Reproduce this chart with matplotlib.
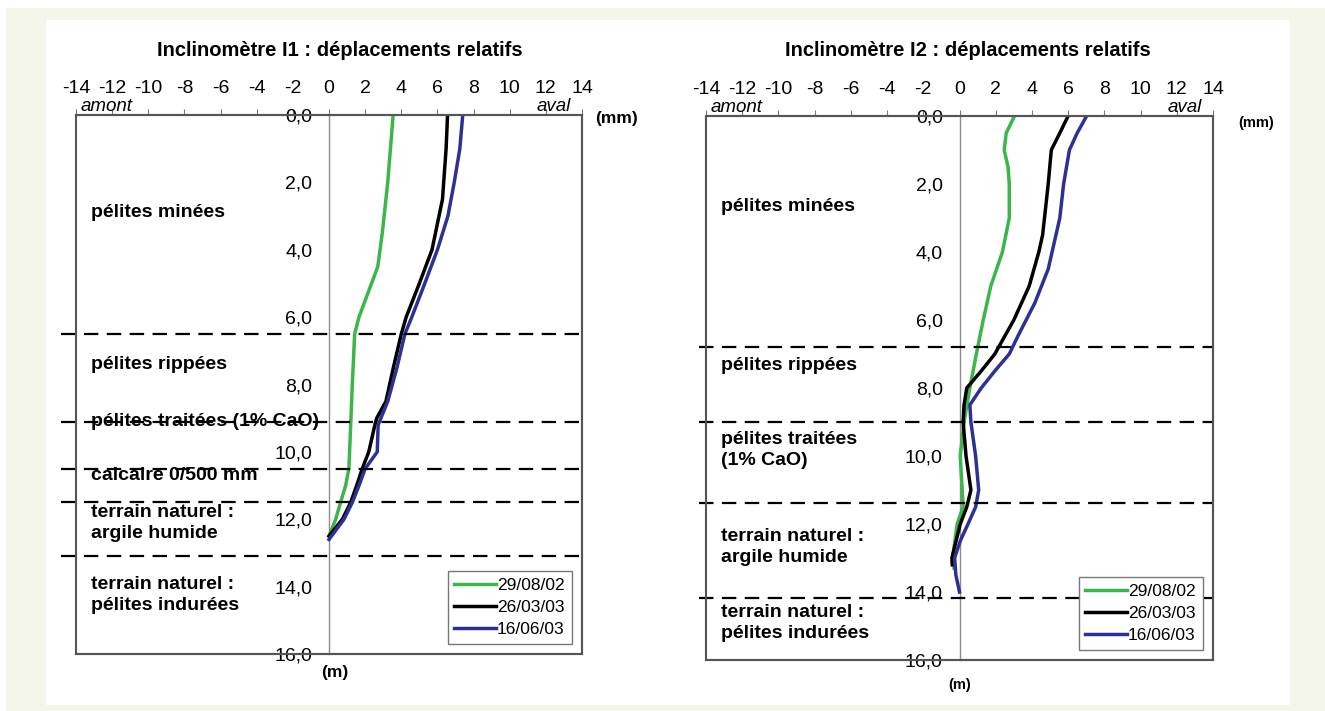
import matplotlib
matplotlib.use("Agg")
import matplotlib.pyplot as plt
from matplotlib.patches import Rectangle
from matplotlib.ticker import FuncFormatter

plt.rcParams['font.family'] = ['Liberation Sans', 'DejaVu Sans']

W, H = 1325, 711

dates = ['29/08/02', '26/03/03', '16/06/03']
colors = ['#3cb54a', '#000000', '#2e3192']

# inclinometre I1 : depth (m) / displacement (mm)
i1_depth = [
    [0, 2, 3.5, 4.5, 6, 6.5, 8, 10, 10.5, 11, 11.5, 12, 12.5],
    [0, 1, 2.5, 4, 5, 6, 6.5, 7.5, 8.5, 9, 9.2, 10, 10.5, 11, 11.5, 12, 12.5],
    [0, 1, 2, 3, 4, 5, 6, 6.5, 7.5, 8.5, 9.2, 10, 10.5, 11, 11.5, 12, 12.6],
]
i1_disp = [
    [3.55, 3.25, 2.95, 2.7, 1.66, 1.42, 1.29, 1.14, 1.1, 0.92, 0.64, 0.37, 0],
    [6.56, 6.48, 6.28, 5.7, 5.0, 4.27, 4.0, 3.56, 3.15, 2.64, 2.54, 2.2, 1.84, 1.53, 1.2, 0.74, 0],
    [7.4, 7.24, 6.93, 6.58, 6.0, 5.3, 4.58, 4.2, 3.76, 3.25, 2.72, 2.67, 2.0, 1.66, 1.29, 0.83, 0],
]
i1_bounds = [6.5, 9.1, 10.5, 11.5, 13.1]
i1_layers = ['pélites minées', 'pélites rippées', 'pélites traitées (1% CaO)',
             'calcaire 0/500 mm', 'terrain naturel :\nargile humide',
             'terrain naturel :\npélites indurées']
i1_layer_y = [2.9, 7.4, 9.1, 10.7, 12.1, 14.25]

# inclinometre I2
i2_depth = [
    [0, 0.5, 1, 1.5, 2, 3, 4, 5, 6, 7, 8, 9, 10, 11, 11.5, 12, 13, 13.3],
    [0, 0.5, 1, 2, 3.5, 4, 5, 6, 7, 7.5, 8, 8.5, 9, 10, 11, 11.5, 12, 13, 13.2],
    [0, 0.5, 1, 2, 3, 4.5, 5.5, 6.5, 7, 7.5, 8, 8.5, 9, 10, 11, 11.5, 12, 12.5, 13, 13.5, 14],
]
i2_disp = [
    [3.04, 2.58, 2.47, 2.68, 2.75, 2.75, 2.37, 1.73, 1.31, 0.93, 0.57, 0.25, 0.04, 0.15, 0.2, -0.13, -0.38, -0.3],
    [6.0, 5.54, 5.07, 4.9, 4.59, 4.38, 3.85, 3.0, 1.95, 1.2, 0.4, 0.25, 0.2, 0.36, 0.63, 0.4, 0.04, -0.42, -0.4],
    [7.02, 6.5, 6.07, 5.75, 5.54, 4.9, 4.16, 3.2, 2.75, 1.95, 1.2, 0.57, 0.63, 0.89, 1.06, 0.89, 0.47, 0.04, -0.27, -0.2, 0],
]
i2_bounds = [6.78, 9.0, 11.38, 14.19]
i2_layers = ['pélites minées', 'pélites rippées', 'pélites traitées\n(1% CaO)',
             'terrain naturel :\nargile humide', 'terrain naturel :\npélites indurées']
i2_layer_y = [2.65, 7.33, 9.83, 12.67, 14.9]

xticks = list(range(-14, 15, 2))
yticks = list(range(0, 17, 2))


def px(l, t, r, b):
    return [l / W, 1 - b / H, (r - l) / W, (b - t) / H]


fig = plt.figure(figsize=(W / 100, H / 100), dpi=100, facecolor='white')
fig.patches.append(Rectangle((6 / W, 0), 1, 1 - 8 / H, transform=fig.transFigure,
                             facecolor='#f3f6e8', edgecolor='none', zorder=-10))
fig.patches.append(Rectangle((46 / W, 6 / H), (1290 - 46) / W, (705 - 20) / H,
                             transform=fig.transFigure, facecolor='white',
                             edgecolor='none', zorder=-9))


def draw(ax, depths, disps, bounds, layers, layer_y, dash_x0, title, tx, unit_fs, mm_pos, m_pos):
    for d, v, c, lab in zip(depths, disps, colors, dates):
        ax.plot(v, d, color=c, lw=2.5, label=lab, zorder=4)
    ax.hlines(bounds, dash_x0, 14, colors='k', linestyles=(0, (6.5, 3.8)), lw=1.6,
              clip_on=False, zorder=5)
    for name, y in zip(layers, layer_y):
        ax.text(-13.15, y, name, fontsize=14, fontweight='bold', va='center',
                ha='left', linespacing=1.3, zorder=3)
    ax.set_xlim(-14, 14)
    ax.set_ylim(16, 0)
    ax.set_xticks(xticks)
    ax.set_yticks(yticks)
    ax.xaxis.tick_top()
    ax.xaxis.set_major_formatter(FuncFormatter(lambda v, p: f"{v:.0f}"))
    ax.yaxis.set_major_formatter(FuncFormatter(lambda v, p: f"{v:.1f}".replace('.', ',')))
    ax.tick_params(axis='x', direction='out', length=4, width=0.8, color='#777777',
                   pad=9, labelsize=14)
    ax.tick_params(axis='y', length=0, pad=12, labelsize=14)
    ax.spines['left'].set_position(('data', 0))
    ax.spines['left'].set_color('#8c8c8c')
    ax.spines['left'].set_linewidth(1)
    for s in ['top', 'right', 'bottom']:
        ax.spines[s].set_color('#555555')
        ax.spines[s].set_linewidth(1.5)
    ax.add_patch(Rectangle((0, 0), 1, 1, transform=ax.transAxes, fill=False,
                           edgecolor='#555555', lw=1.5, clip_on=False, zorder=6))
    ax.text(-13.75, 0.0, 'amont', style='italic', fontsize=13.5, ha='left', va='bottom')
    ax.text(13.4, 0.0, 'aval', style='italic', fontsize=13.5, ha='right', va='bottom')
    leg = ax.legend(loc='lower right', fancybox=False, edgecolor='#777777',
                    handlelength=2.4, handletextpad=0.05, fontsize=12.5,
                    borderaxespad=0.6, labelspacing=0.38, borderpad=0.4,
                    framealpha=1)
    leg.get_frame().set_linewidth(1.0)
    leg.set_zorder(10)
    fig.text(tx / W, 1 - 51 / H, title, fontsize=14.5, fontweight='bold',
             ha='center', va='center')
    fig.text(mm_pos[0] / W, 1 - mm_pos[1] / H, '(mm)', fontsize=unit_fs,
             fontweight='bold', ha='center', va='center')
    fig.text(m_pos[0] / W, 1 - m_pos[1] / H, '(m)', fontsize=unit_fs,
             fontweight='bold', ha='center', va='center')


ax1 = fig.add_axes(px(76, 115, 582, 654))
ax2 = fig.add_axes(px(706, 116, 1213, 660))
ax1.set_facecolor('white')
ax2.set_facecolor('white')

draw(ax1, i1_depth, i1_disp, i1_bounds, i1_layers, i1_layer_y, -14.85,
     'Inclinomètre I1 : déplacements relatifs', 340, 12.5, (616, 118), (335, 673))
draw(ax2, i2_depth, i2_disp, i2_bounds, i2_layers, i2_layer_y, -14.4,
     'Inclinomètre I2 : déplacements relatifs', 968, 10.5, (1256, 123), (960, 685))

fig.savefig('out.png', dpi=100, facecolor=fig.get_facecolor())
